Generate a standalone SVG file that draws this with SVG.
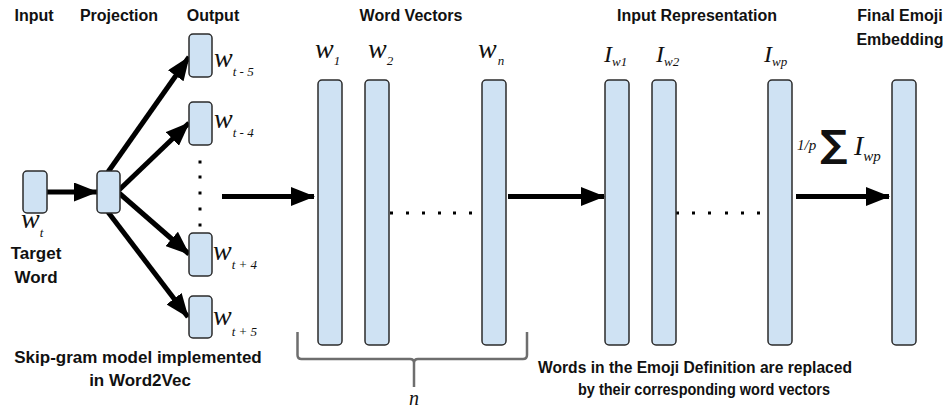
<svg xmlns="http://www.w3.org/2000/svg" width="943" height="410" viewBox="0 0 943 410">
<style>
.box{fill:#cfe2f3;stroke:#2b2b2b;stroke-width:1.5}
.hd{font-family:"Liberation Sans",Arial,sans-serif;font-weight:bold;font-size:16px;fill:#111}
.bt{font-family:"Liberation Sans",Arial,sans-serif;font-weight:bold;font-size:17px;fill:#111}
.mv{font-family:"Liberation Serif","Times New Roman",serif;font-style:italic;fill:#111}
.w{font-size:28px}
.s{font-size:13px}
.I{font-size:24px}
.arr{stroke:#000;stroke-width:5;fill:none;marker-end:url(#ah)}
.dot{stroke:#000;stroke-width:3;fill:none}
</style>
<defs>
<marker id="ah" markerUnits="userSpaceOnUse" markerWidth="24" markerHeight="19" viewBox="0 0 24 19" refX="23" refY="9.5" orient="auto">
<path d="M0,0 L24,9.5 L0,19 z" fill="#000"/>
</marker>
</defs>
<rect width="943" height="410" fill="#fff"/>

<g id="connectors">
<line class="arr" x1="47" y1="192" x2="97" y2="192"/>
<line class="arr" x1="108" y1="172" x2="189" y2="57"/>
<line class="arr" x1="119" y1="190" x2="189" y2="123"/>
<line class="arr" x1="119" y1="193" x2="189" y2="254"/>
<line class="arr" x1="108" y1="212" x2="188" y2="317"/>
<line class="arr" x1="222" y1="196.5" x2="314" y2="196.5"/>
<line class="arr" x1="508" y1="196.5" x2="604" y2="196.5"/>
<line class="arr" x1="796" y1="196.5" x2="889" y2="196.5"/>
<path class="dot" d="M200,160.5 v3 M200,175.5 v3 M200,191.5 v3 M200,207.5 v3 M200,223.5 v3"/>
<path class="dot" d="M390,213 h3 M406,213 h3 M422,213 h3 M438,213 h3 M453,213 h3 M469,213 h3"/>
<path class="dot" d="M676,213 h3 M692,213 h3 M708,213 h3 M725,213 h3 M741,213 h3 M757,213 h3"/>
</g>

<g id="headings">
<text class="hd" x="34" y="21" text-anchor="middle">Input</text>
<text class="hd" x="119" y="21" text-anchor="middle">Projection</text>
<text class="hd" x="213" y="21" text-anchor="middle">Output</text>
<text class="hd" x="411" y="21" text-anchor="middle">Word Vectors</text>
<text class="hd" x="697" y="21" text-anchor="middle">Input Representation</text>
<text class="hd" x="900" y="21" text-anchor="middle">Final Emoji</text>
<text class="hd" x="900" y="45" text-anchor="middle">Embedding</text>
</g>

<g id="input">
<rect class="box" x="23" y="171" width="24" height="42" rx="4"/>
<text class="mv" x="21" y="228"><tspan class="w">w</tspan><tspan class="s" dx="0" dy="9">t</tspan></text>
<text class="bt" x="36" y="259" text-anchor="middle">Target</text>
<text class="bt" x="36" y="283" text-anchor="middle">Word</text>
</g>

<g id="projection">
<rect class="box" x="97" y="171" width="23" height="42" rx="4"/>
</g>

<g id="out-t-5">
<rect class="box" x="189" y="34" width="23" height="43" rx="4"/>
<text class="mv" x="214" y="67"><tspan class="w">w</tspan><tspan class="s" dx="0" dy="9">t - 5</tspan></text>
</g>
<g id="out-t-4">
<rect class="box" x="189" y="102" width="23" height="43" rx="4"/>
<text class="mv" x="214" y="128"><tspan class="w">w</tspan><tspan class="s" dx="0" dy="9">t - 4</tspan></text>
</g>
<g id="out-t4">
<rect class="box" x="189" y="233" width="23" height="43" rx="4"/>
<text class="mv" x="213" y="260"><tspan class="w">w</tspan><tspan class="s" dx="0" dy="9">t + 4</tspan></text>
</g>
<g id="out-t5">
<rect class="box" x="189" y="296" width="23" height="42" rx="4"/>
<text class="mv" x="213" y="325"><tspan class="w">w</tspan><tspan class="s" dx="0" dy="11">t + 5</tspan></text>
</g>

<g id="skipgram-caption">
<text class="bt" x="138" y="363" text-anchor="middle">Skip-gram model implemented</text>
<text class="bt" x="140" y="386" text-anchor="middle">in Word2Vec</text>
</g>

<g id="wv1">
<rect class="box" x="318" y="80" width="24" height="265" rx="4"/>
<text class="mv" x="315" y="58"><tspan class="w">w</tspan><tspan class="s" dx="0" dy="7">1</tspan></text>
</g>
<g id="wv2">
<rect class="box" x="365" y="80" width="24" height="265" rx="4"/>
<text class="mv" x="368" y="58"><tspan class="w">w</tspan><tspan class="s" dx="0" dy="7">2</tspan></text>
</g>
<g id="wvn">
<rect class="box" x="482" y="80" width="24" height="265" rx="4"/>
<text class="mv" x="478" y="58"><tspan class="w">w</tspan><tspan class="s" dx="1" dy="7">n</tspan></text>
</g>

<g id="brace">
<path d="M297.5,332 V355 Q297.5,359 301.5,359 H410 Q414,359 414,363 V387 M414,363 Q414,359 418,359 H523 Q527,359 527,355 V332" fill="none" stroke="#6e6e6e" stroke-width="2.5"/>
<text class="mv" x="414" y="405" text-anchor="middle" font-size="20">n</text>
</g>

<g id="iw1">
<rect class="box" x="605" y="80" width="24" height="265" rx="4"/>
<text class="mv" x="604" y="62"><tspan class="I">I</tspan><tspan class="s" dx="0" dy="4">w1</tspan></text>
</g>
<g id="iw2">
<rect class="box" x="652" y="80" width="24" height="265" rx="4"/>
<text class="mv" x="656" y="62"><tspan class="I">I</tspan><tspan class="s" dx="0" dy="4">w2</tspan></text>
</g>
<g id="iwp">
<rect class="box" x="768" y="80" width="24" height="265" rx="4"/>
<text class="mv" x="764" y="62"><tspan class="I">I</tspan><tspan class="s" dx="0" dy="4">wp</tspan></text>
</g>

<g id="ir-caption">
<text class="bt" x="695" y="373" text-anchor="middle" font-size="16" textLength="314" lengthAdjust="spacingAndGlyphs">Words in the Emoji Definition are replaced</text>
<text class="bt" x="704" y="395" text-anchor="middle" font-size="16" textLength="252" lengthAdjust="spacingAndGlyphs">by their corresponding word vectors</text>
</g>

<g id="formula">
<text class="mv" x="797" y="150" font-size="15">1/p</text>
<text x="820" y="157" font-family="'DejaVu Sans',sans-serif" font-weight="bold" font-size="38" fill="#111">∑</text>
<text class="mv" x="854" y="155"><tspan font-size="28">I</tspan><tspan font-size="15" dx="0" dy="6">wp</tspan></text>
</g>

<g id="final">
<rect class="box" x="892" y="80" width="24" height="265" rx="4"/>
</g>
</svg>
